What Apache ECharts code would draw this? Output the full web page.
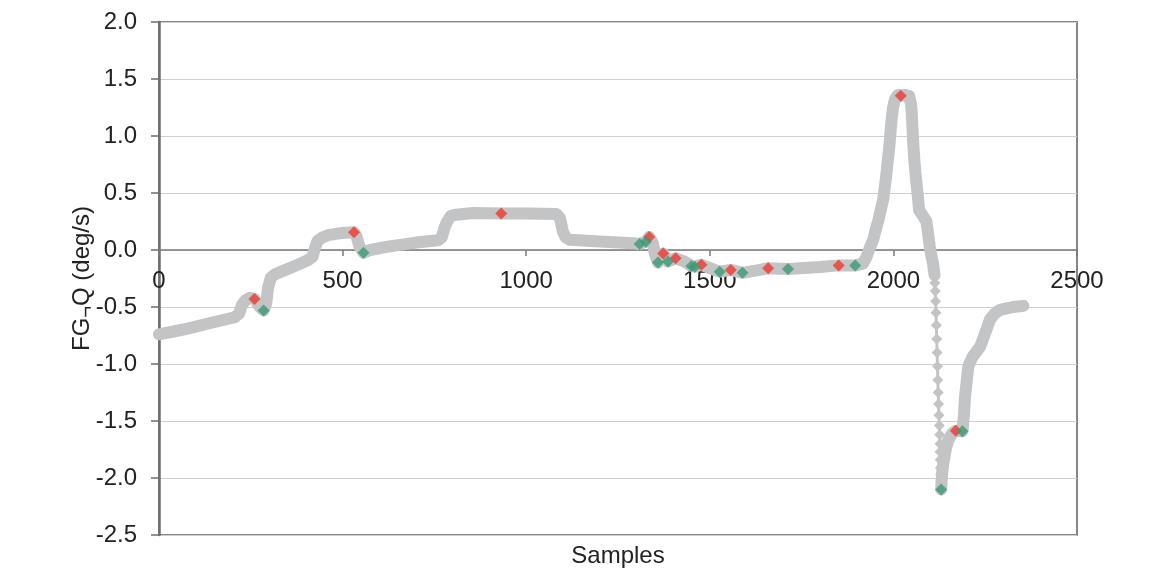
<!DOCTYPE html>
<html>
<head>
<meta charset="utf-8">
<script src="https://cdn.jsdelivr.net/npm/echarts@6/dist/echarts.min.js"></script>
<style>
html,body{margin:0;padding:0;background:#fff;}
#chart{width:1164px;height:571px;}
</style>
</head>
<body>
<div id="chart"></div>
<script>
// ---- data ----
const xTicks = [0, 500, 1000, 1500, 2000, 2500];
const yTicks = [-2.5, -2.0, -1.5, -1.0, -0.5, 0.0, 0.5, 1.0, 1.5, 2.0];

// gray trace, before the steep drop
const traceX = [0, 40, 78, 140, 206, 218, 226, 236, 247, 260, 275, 285, 292, 297, 305, 318, 333, 370, 405, 418, 425, 432, 445, 460, 500, 531, 538, 546, 557, 575, 623, 700, 760, 770, 778, 785, 795, 810, 855, 932, 1000, 1082, 1092, 1100, 1108, 1118, 1200, 1291, 1309, 1326, 1335, 1345, 1350, 1359, 1373, 1386, 1407, 1430, 1450, 1459, 1477, 1513, 1527, 1557, 1589, 1636, 1659, 1713, 1800, 1851, 1896, 1917, 1927, 1937, 1945, 1952, 1959, 1966, 1972, 1977, 1981, 1985, 1989, 1992, 1995, 1999, 2004, 2012, 2020, 2032, 2043, 2048, 2050, 2052, 2054, 2057, 2061, 2066, 2070, 2080, 2090, 2095, 2099, 2104, 2108, 2112];
const traceY = [-0.74, -0.715, -0.69, -0.64, -0.59, -0.56, -0.48, -0.44, -0.42, -0.43, -0.50, -0.53, -0.47, -0.33, -0.24, -0.21, -0.19, -0.14, -0.09, -0.06, 0.02, 0.08, 0.11, 0.13, 0.15, 0.155, 0.12, 0.03, -0.024, 0.0, 0.03, 0.065, 0.085, 0.11, 0.20, 0.25, 0.30, 0.31, 0.325, 0.32, 0.32, 0.315, 0.28, 0.16, 0.11, 0.09, 0.075, 0.06, 0.053, 0.073, 0.115, 0.06, -0.03, -0.11, -0.03, -0.10, -0.073, -0.10, -0.14, -0.146, -0.13, -0.175, -0.19, -0.175, -0.20, -0.175, -0.16, -0.167, -0.15, -0.135, -0.135, -0.12, -0.06, 0.03, 0.09, 0.18, 0.26, 0.36, 0.44, 0.56, 0.67, 0.79, 0.91, 1.03, 1.14, 1.25, 1.32, 1.36, 1.353, 1.36, 1.35, 1.28, 1.20, 1.07, 0.94, 0.79, 0.64, 0.49, 0.35, 0.30, 0.25, 0.13, 0.03, -0.06, -0.12, -0.22];

// gray trace, steep drop (individual samples visible)
const dropX = [2112, 2113, 2114, 2115, 2116, 2117, 2118, 2119, 2120, 2121, 2122, 2123, 2124, 2125, 2126, 2126.5, 2127, 2127.5, 2128, 2128.5, 2129, 2129.5, 2130];
const dropY = [-0.22, -0.29, -0.36, -0.45, -0.55, -0.66, -0.78, -0.90, -1.02, -1.14, -1.25, -1.35, -1.45, -1.54, -1.62, -1.70, -1.77, -1.84, -1.91, -1.97, -2.02, -2.06, -2.10];

// gray trace, recovery after the minimum
const riseX = [2130, 2133, 2136, 2142, 2149, 2160, 2170, 2188, 2192, 2195, 2200, 2204, 2215, 2236, 2250, 2263, 2275, 2290, 2326, 2354];
const riseY = [-2.10, -1.95, -1.87, -1.76, -1.67, -1.61, -1.585, -1.59, -1.45, -1.29, -1.14, -1.02, -0.94, -0.85, -0.73, -0.61, -0.56, -0.525, -0.50, -0.49];

// highlighted samples
const redX = [260, 531, 932, 1335, 1373, 1407, 1477, 1557, 1659, 1851, 2020, 2170];
const redY = [-0.43, 0.155, 0.32, 0.115, -0.03, -0.073, -0.13, -0.175, -0.16, -0.135, 1.353, -1.585];
const greenX = [285, 557, 1309, 1326, 1359, 1386, 1450, 1459, 1527, 1589, 1713, 1896, 2130, 2188];
const greenY = [-0.53, -0.024, 0.053, 0.073, -0.11, -0.10, -0.14, -0.146, -0.19, -0.20, -0.167, -0.135, -2.10, -1.59];

// ---- chart ----
function zip(xs, ys) { return xs.map((x, i) => [x, ys[i]]); }
const FONT = '"Liberation Sans", Arial, sans-serif';
const GRAY = '#c3c4c6';
const FS = 24;

const chart = echarts.init(document.getElementById('chart'), null, {renderer: 'canvas'});
chart.setOption({
  animation: false,
  backgroundColor: '#ffffff',
  grid: {
    left: 159, right: 87, top: 22, bottom: 36,
    show: true, borderColor: '#858585', borderWidth: 2,
    outerBoundsMode: 'none'
  },
  xAxis: [{
    type: 'value', min: xTicks[0], max: xTicks[xTicks.length - 1], interval: 500,
    position: 'bottom', offset: -285, z: 0,
    axisLine: {onZero: false, lineStyle: {color: '#7a7a7a', width: 1.5}},
    axisTick: {show: true, length: 6, lineStyle: {color: '#7a7a7a', width: 1.5}},
    axisLabel: {fontSize: FS, color: '#222', fontFamily: FONT, margin: 19,
      formatter: v => String(v)},
    splitLine: {show: false}
  }, {
    type: 'value', min: xTicks[0], max: xTicks[xTicks.length - 1], position: 'bottom',
    axisLine: {show: false, onZero: false}, axisTick: {show: false}, axisLabel: {show: false},
    splitLine: {show: false},
    name: 'Samples', nameLocation: 'middle', nameGap: 9, nameMoveOverlap: false,
    nameTextStyle: {fontSize: FS, color: '#222', fontFamily: FONT}
  }],
  yAxis: {
    type: 'value', min: yTicks[0], max: yTicks[yTicks.length - 1], interval: 0.5,
    axisLine: {show: true, lineStyle: {color: '#6e6e6e', width: 2.5}},
    axisTick: {show: true, length: 8, lineStyle: {color: '#6e6e6e', width: 1.5}},
    axisLabel: {fontSize: FS, color: '#222', fontFamily: FONT, margin: 22,
      formatter: v => v.toFixed(1)},
    splitLine: {show: true, lineStyle: {color: '#cfcfcf', width: 1.2}},
    name: '{a|FG}{b|¬}{a|Q (deg/s)}',
    nameLocation: 'middle', nameRotate: 90, nameGap: 63, nameMoveOverlap: false,
    nameTextStyle: {
      fontFamily: FONT, color: '#222',
      rich: {
        a: {fontSize: FS, fontFamily: FONT, color: '#222', lineHeight: 28},
        b: {fontSize: 20, fontFamily: FONT, color: '#222', lineHeight: 4, verticalAlign: 'bottom'}
      }
    }
  },
  series: [{
    type: 'line', data: zip(traceX, traceY), showSymbol: false, z: 2,
    lineStyle: {color: GRAY, width: 12, cap: 'round', join: 'round'}
  }, {
    type: 'line', data: zip(riseX, riseY), showSymbol: false, z: 2,
    lineStyle: {color: GRAY, width: 12, cap: 'round', join: 'round'}
  }, {
    type: 'line', data: zip(dropX, dropY), showSymbol: true, symbol: 'diamond', symbolSize: 11, z: 2,
    itemStyle: {color: GRAY}, lineStyle: {color: GRAY, width: 3}
  }, {
    type: 'scatter', data: zip(redX, redY), symbol: 'diamond', symbolSize: 12, z: 3,
    itemStyle: {color: '#ee3a2c'}
  }, {
    type: 'scatter', data: zip(greenX, greenY), symbol: 'diamond', symbolSize: 12, z: 4,
    itemStyle: {color: '#3a9a73'}
  }]
});
</script>
</body>
</html>
